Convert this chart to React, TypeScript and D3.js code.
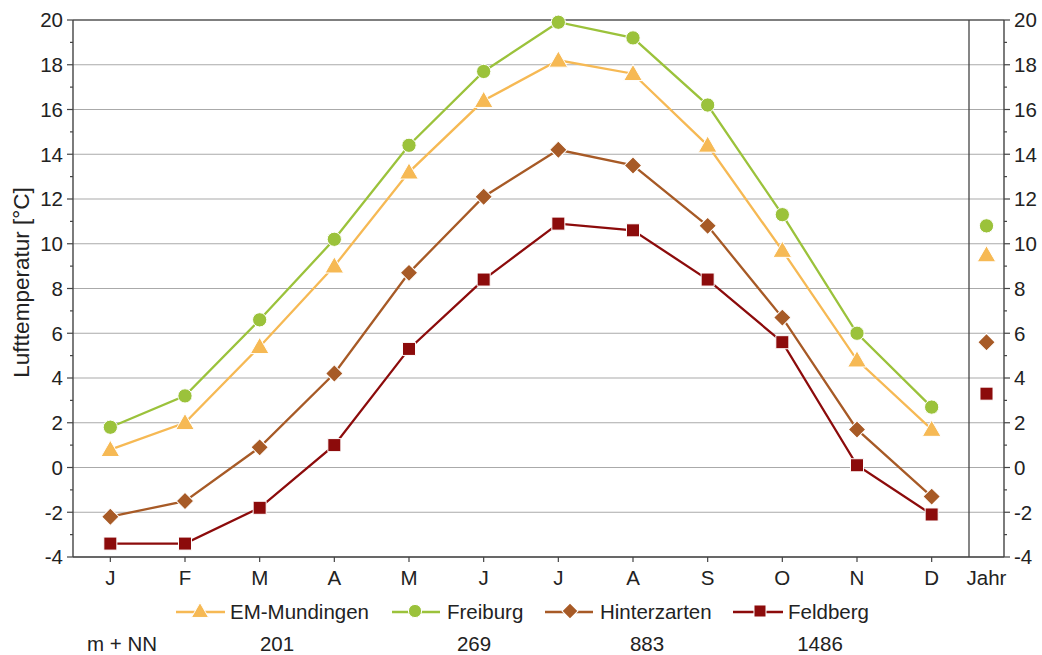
import React from "react";
import * as d3 from "d3";

const months = ["J", "F", "M", "A", "M", "J", "J", "A", "S", "O", "N", "D"];
const emMundingen = [0.8, 2.0, 5.4, 9.0, 13.2, 16.4, 18.2, 17.6, 14.4, 9.7, 4.8, 1.7];
const freiburg = [1.8, 3.2, 6.6, 10.2, 14.4, 17.7, 19.9, 19.2, 16.2, 11.3, 6.0, 2.7];
const hinterzarten = [-2.2, -1.5, 0.9, 4.2, 8.7, 12.1, 14.2, 13.5, 10.8, 6.7, 1.7, -1.3];
const feldberg = [-3.4, -3.4, -1.8, 1.0, 5.3, 8.4, 10.9, 10.6, 8.4, 5.6, 0.1, -2.1];
const yearly = [9.5, 10.8, 5.6, 3.3];
const stationNames = ["EM-Mundingen", "Freiburg", "Hinterzarten", "Feldberg"];
const elevations = ["201", "269", "883", "1486"];
const yTicks = [-4, -2, 0, 2, 4, 6, 8, 10, 12, 14, 16, 18, 20];

const colors = ["#F6B954", "#9BC23B", "#A75A26", "#8C0B0B"];
const shapes = [d3.symbolTriangle, d3.symbolCircle, d3.symbolSquare, d3.symbolSquare];
const rotations = [0, 0, 45, 0];
const sizes = [150, 160, 150, 170];
const series = [emMundingen, freiburg, hinterzarten, feldberg];

const left = 73, right = 1004, sep = 969, top = 20, bottom = 557;
const font = "Liberation Sans, Arial, sans-serif";

export default function App() {
  const x = d3.scaleBand<number>().domain(d3.range(12)).range([left, sep]);
  const xc = (i: number) => (x(i) as number) + x.bandwidth() / 2;
  const y = d3.scaleLinear().domain([-4, 20]).range([bottom, top]);
  const jahrX = (sep + right) / 2;
  const line = d3.line<number>().x((_, i) => xc(i)).y((d) => y(d));
  const minor = d3.range(-3, 20, 2);
  const legendLine = [[176, 225], [392, 440], [545, 593], [733, 783]];
  const legendMarker = [200, 415, 570, 760];
  const legendTextX = [230, 447, 600, 788];
  const elevX = [277, 474, 647, 820];
  const marker = (k: number, cx: number, cy: number, scale = 1, key?: any) => (
    <path
      key={key}
      d={d3.symbol().type(shapes[k]).size(sizes[k] * scale)() as string}
      transform={`translate(${cx},${cy + (k === 0 ? 1.5 : 0)}) rotate(${rotations[k]})`}
      fill={colors[k]}
      stroke="#fff"
      strokeWidth={1}
    />
  );

  return (
    <svg width={1042} height={655} style={{ display: "block", position: "absolute", left: 0, top: 0, background: "#fff" }} fontFamily={font}>
      {yTicks.map((t) => (
        <line key={"g" + t} x1={left} x2={right} y1={y(t)} y2={y(t)} stroke={t === 20 ? "#555" : "#aaa"} strokeWidth={t === 20 ? 1.6 : 1.2} />
      ))}
      <line x1={sep} x2={sep} y1={top} y2={bottom} stroke="#444" strokeWidth={1.3} />
      <line x1={left} x2={left} y1={top} y2={bottom} stroke="#444" strokeWidth={1.4} />
      <line x1={right} x2={right} y1={top} y2={bottom} stroke="#444" strokeWidth={1.4} />
      <line x1={left} x2={right} y1={bottom} y2={bottom} stroke="#444" strokeWidth={1.4} />
      {yTicks.map((t) => (
        <g key={"t" + t}>
          <line x1={left - 6} x2={left} y1={y(t)} y2={y(t)} stroke="#444" strokeWidth={1.2} />
          <line x1={right} x2={right + 6} y1={y(t)} y2={y(t)} stroke="#444" strokeWidth={1.2} />
          <text x={left - 10} y={y(t)} dy="0.36em" textAnchor="end" fontSize={20.5} fill="#222">{t}</text>
          <text x={right + 10} y={y(t)} dy="0.36em" textAnchor="start" fontSize={20.5} fill="#222">{t}</text>
        </g>
      ))}
      {minor.map((t) => (
        <g key={"m" + t}>
          <line x1={left - 3} x2={left} y1={y(t)} y2={y(t)} stroke="#444" strokeWidth={1.2} />
          <line x1={right} x2={right + 3} y1={y(t)} y2={y(t)} stroke="#444" strokeWidth={1.2} />
        </g>
      ))}
      {months.map((m, i) => (
        <g key={"x" + i}>
          <line x1={xc(i)} x2={xc(i)} y1={bottom} y2={bottom + 5} stroke="#444" strokeWidth={1.2} />
          <text x={xc(i)} y={585} textAnchor="middle" fontSize={20.5} fill="#222">{m}</text>
        </g>
      ))}
      <text x={jahrX} y={585} textAnchor="middle" fontSize={20.5} fill="#222">Jahr</text>
      <text transform={`translate(28.5,${(182 + 383) / 2}) rotate(-90)`} textAnchor="middle" fontSize={22.5} fill="#222">Lufttemperatur [°C]</text>
      {series.map((s, k) => (
        <g key={"s" + k}>
          <path d={line(s) as string} fill="none" stroke={colors[k]} strokeWidth={2.3} />
          {s.map((v, i) => marker(k, xc(i), y(v), 1, i))}
          {marker(k, jahrX, y(yearly[k]))}
        </g>
      ))}
      {stationNames.map((n, k) => (
        <g key={"l" + k}>
          <line x1={legendLine[k][0]} x2={legendLine[k][1]} y1={612} y2={612} stroke={colors[k]} strokeWidth={2.6} />
          {marker(k, legendMarker[k], 611, 0.85)}
          <text x={legendTextX[k]} y={619} fontSize={20.5} fill="#222">{n}</text>
        </g>
      ))}
      <text x={87} y={651} fontSize={20.5} fill="#222">m + NN</text>
      {elevations.map((e, k) => (
        <text key={"e" + k} x={elevX[k]} y={651} textAnchor="middle" fontSize={20.5} fill="#222">{e}</text>
      ))}
    </svg>
  );
}
